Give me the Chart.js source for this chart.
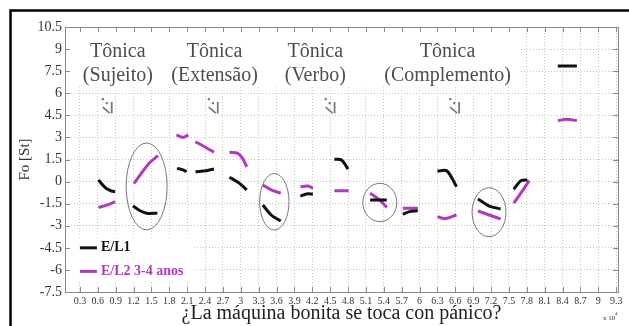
<!DOCTYPE html>
<html>
<head>
<meta charset="utf-8">
<script src="https://cdn.jsdelivr.net/npm/chart.js@4.4.1/dist/chart.umd.min.js"></script>
<style>
  html, body { margin: 0; padding: 0; background: #fff; }
  #wrap { width: 629px; height: 326px; }
</style>
</head>
<body>
<div id="wrap"><canvas id="foChart" width="629" height="326"></canvas></div>
<script>
// tick values (x axis is in units of 10^4 samples)
const xTicks = [0.3, 0.6, 0.9, 1.2, 1.5, 1.8, 2.1, 2.4, 2.7, 3, 3.3, 3.6, 3.9, 4.2, 4.5, 4.8,
  5.1, 5.4, 5.7, 6, 6.3, 6.6, 6.9, 7.2, 7.5, 7.8, 8.1, 8.4, 8.7, 9, 9.3];
const yTicks = [-7.5, -6, -4.5, -3, -1.5, 0, 1.5, 3, 4.5, 6, 7.5, 9, 10.5];

// E/L1 contour, null = gap between syllables
const el1X = [0.61, 0.74, 0.83, 0.89, null, 1.19, 1.31, 1.42, 1.6, null, 1.93, 2.03, 2.09, null,
  2.24, 2.42, 2.55, null, 2.81, 2.98, 3.1, null, 3.37, 3.51, 3.67, null, 4.0, 4.1, 4.21, null,
  4.57, 4.69, 4.8, null, 5.17, 5.45, null, 5.72, 5.83, 5.97, null, 6.3, 6.46, 6.62, null,
  6.98, 7.17, 7.36, null, 7.58, 7.7, 7.81, null, 8.32, 8.64];
const el1Y = [0.11, -0.46, -0.64, -0.69, null, -1.66, -1.98, -2.15, -2.15, null, 0.9, 0.79, 0.67, null,
  0.67, 0.74, 0.86, null, 0.29, -0.12, -0.57, null, -1.59, -2.27, -2.68, null, -0.98, -0.84, -0.84, null,
  1.52, 1.47, 0.84, null, -1.25, -1.25, null, -2.22, -2.04, -1.98, null, 0.72, 0.72, -0.35, null,
  -1.18, -1.66, -1.86, null, -0.52, 0.06, 0.11, null, 7.85, 7.85];

// E/L2 3-4 anos contour
const el2X = [0.61, 0.75, 0.89, null, 1.21, 1.33, 1.47, 1.61, null, 1.92, 2.03, 2.12, null,
  2.24, 2.39, 2.55, null, 2.81, 2.95, 3.03, 3.1, null, 3.37, 3.51, 3.67, null, 4.0, 4.13, 4.21, null,
  4.57, 4.81, null, 5.17, 5.33, 5.45, null, 5.72, 5.97, null, 6.3, 6.42, 6.62, null,
  6.98, 7.17, 7.36, null, 7.58, 7.7, 7.84, null, 8.32, 8.47, 8.64];
const el2Y = [-1.75, -1.6, -1.37, null, -0.12, 0.56, 1.28, 1.76, null, 3.17, 3.0, 3.17, null,
  2.71, 2.37, 1.99, null, 1.99, 1.92, 1.58, 1.01, null, -0.23, -0.57, -0.79, null, -0.35, -0.3, -0.46, null,
  -0.62, -0.62, null, -0.79, -1.25, -1.75, null, -1.81, -1.81, null, -2.38, -2.52, -2.27, null,
  -2.0, -2.27, -2.54, null, -1.47, -0.79, 0.06, null, 4.14, 4.23, 4.14];

// stressed-syllable labels and the ellipses around compared syllables (data units)
const tonicaLabels = ['(Sujeito)', '(Extensão)', '(Verbo)', '(Complemento)'];
const tonicaX = [0.937, 2.56, 4.25, 6.47];
const arrowX = [0.75, 2.53, 4.49, 6.58];
const ellipseX = [1.42, 3.563, 5.333, 7.166];
const ellipseY = [-0.33, -1.37, -1.42, -2.08];
const ellipseRx = [0.344, 0.246, 0.285, 0.285];
const ellipseRy = [2.95, 1.92, 1.3, 1.66];

const serif = '"Liberation Serif", "Times New Roman", serif';

function toPoints(xs, ys) {
  return xs.map((x, i) => ({ x: x === null ? xs[i - 1] : x, y: ys[i] }));
}

function fmt(v) {
  return String(Number(v.toFixed(1)));
}

function arrowMark(ctx, px, py) {
  ctx.fillStyle = '#7a7a7a';
  ctx.strokeStyle = '#7a7a7a';
  ctx.lineWidth = 1.8;
  ctx.fillRect(px - 5, py - 8, 2.2, 2.2);
  ctx.fillRect(px - 1, py - 4, 2.2, 2.2);
  ctx.beginPath();
  ctx.moveTo(px - 4, py + 1);
  ctx.lineTo(px + 3, py + 7);
  ctx.moveTo(px + 5, py - 4);
  ctx.lineTo(px + 5, py + 7.5);
  ctx.stroke();
}

const decorations = {
  id: 'decorations',
  beforeDatasetsDraw(chart) {
    const { ctx, chartArea: a, scales: { x, y } } = chart;
    ctx.save();

    // white patches: label band and legend
    ctx.fillStyle = '#fff';
    ctx.fillRect(a.left + 1, a.top + 2, x.getPixelForValue(7.65) - a.left, y.getPixelForValue(6.4) - a.top - 2);
    ctx.fillRect(a.left + 1, y.getPixelForValue(-3.8), x.getPixelForValue(2.2) - a.left, y.getPixelForValue(-6.8) - y.getPixelForValue(-3.8));

    // labels
    ctx.fillStyle = '#4d4d4d';
    ctx.font = '20px ' + serif;
    ctx.textAlign = 'center';
    ctx.textBaseline = 'middle';
    tonicaLabels.forEach((sub, i) => {
      const px = x.getPixelForValue(tonicaX[i]);
      ctx.fillText('Tônica', px, y.getPixelForValue(8.8));
      ctx.fillText(sub, px, y.getPixelForValue(7.17));
    });
    arrowX.forEach((v) => arrowMark(ctx, x.getPixelForValue(v), y.getPixelForValue(5.13)));

    // ellipses
    ctx.strokeStyle = '#555';
    ctx.lineWidth = 0.8;
    ellipseX.forEach((cx, i) => {
      const px = x.getPixelForValue(cx);
      const py = y.getPixelForValue(ellipseY[i]);
      const rx = x.getPixelForValue(cx + ellipseRx[i]) - px;
      const ry = py - y.getPixelForValue(ellipseY[i] + ellipseRy[i]);
      ctx.beginPath();
      ctx.ellipse(px, py, rx, ry, 0, 0, Math.PI * 2);
      ctx.stroke();
    });
    ctx.restore();
  },
  afterDraw(chart) {
    const { ctx, chartArea: a, scales: { x, y } } = chart;
    ctx.save();

    // axes box with inward ticks
    ctx.strokeStyle = '#8a8a8a';
    ctx.lineWidth = 1;
    ctx.strokeRect(a.left + 0.5, a.top + 0.5, a.right - a.left, a.bottom - a.top);
    ctx.beginPath();
    xTicks.forEach((v) => {
      const px = Math.round(x.getPixelForValue(v)) + 0.5;
      ctx.moveTo(px, a.bottom); ctx.lineTo(px, a.bottom - 5);
      ctx.moveTo(px, a.top); ctx.lineTo(px, a.top + 5);
    });
    yTicks.forEach((v) => {
      const py = Math.round(y.getPixelForValue(v)) + 0.5;
      ctx.moveTo(a.left, py); ctx.lineTo(a.left + 5, py);
      ctx.moveTo(a.right, py); ctx.lineTo(a.right - 5, py);
    });
    ctx.stroke();

    // legend
    ctx.font = 'bold 14px ' + serif;
    ctx.textAlign = 'left';
    ctx.textBaseline = 'middle';
    chart.data.datasets.forEach((ds, i) => {
      const py = y.getPixelForValue(-4.5 - 1.6 * i);
      const x0 = x.getPixelForValue(0.3);
      ctx.strokeStyle = ds.borderColor;
      ctx.lineWidth = 3;
      ctx.beginPath();
      ctx.moveTo(x0, py);
      ctx.lineTo(x0 + 17, py);
      ctx.stroke();
      ctx.fillStyle = ds.borderColor;
      ctx.fillText(ds.label, x0 + 21, py);
    });

    // exponent note
    ctx.fillStyle = '#333';
    ctx.font = '7px ' + serif;
    ctx.textAlign = 'left';
    ctx.fillText('x 10', a.right - 15, a.bottom + 26);
    ctx.font = '5px ' + serif;
    ctx.fillText('4', a.right - 3, a.bottom + 22);

    // outer black frame
    ctx.strokeStyle = '#000';
    ctx.lineWidth = 2.5;
    ctx.strokeRect(10.5, 10.5, 640, 340);
    ctx.restore();
  }
};

new Chart(document.getElementById('foChart'), {
  type: 'line',
  data: {
    datasets: [
      {
        label: 'E/L1',
        data: toPoints(el1X, el1Y),
        borderColor: '#111111',
        borderWidth: 3,
        pointRadius: 0,
        tension: 0.3,
        spanGaps: false,
      },
      {
        label: 'E/L2 3-4 anos',
        data: toPoints(el2X, el2Y),
        borderColor: '#b238bf',
        borderWidth: 3,
        pointRadius: 0,
        tension: 0.3,
        spanGaps: false,
      },
    ],
  },
  options: {
    responsive: false,
    animation: false,
    layout: { padding: { left: 12, right: 11, top: 27, bottom: 0 } },
    plugins: {
      legend: { display: false },
      tooltip: { enabled: false },
    },
    scales: {
      x: {
        type: 'linear',
        min: 0.05,
        max: 9.33,
        afterBuildTicks: (scale) => {
          scale.ticks = xTicks.map((v) => ({ value: v }));
        },
        afterFit: (scale) => {
          scale.height = 34;
        },
        grid: { color: '#c4c4c4', drawTicks: false },
        border: { display: false, dash: [1, 2] },
        ticks: {
          autoSkip: false,
          maxRotation: 0,
          padding: 3,
          color: '#333',
          font: { family: serif, size: 10 },
          callback: (v) => fmt(v),
        },
        title: {
          display: true,
          text: '¿La máquina bonita se toca con pánico?',
          color: '#222',
          font: { family: serif, size: 20 },
          padding: 0,
        },
      },
      y: {
        min: -7.5,
        max: 10.5,
        afterBuildTicks: (scale) => {
          scale.ticks = yTicks.map((v) => ({ value: v }));
        },
        afterFit: (scale) => {
          scale.width = 53;
        },
        grid: { color: '#c4c4c4', drawTicks: false },
        border: { display: false, dash: [1, 2] },
        ticks: {
          padding: 3,
          color: '#333',
          font: { family: serif, size: 14 },
          callback: (v) => fmt(v),
        },
        title: {
          display: true,
          text: 'Fo [St]',
          color: '#333',
          font: { family: serif, size: 15 },
          padding: { top: 4, bottom: 0 },
        },
      },
    },
  },
  plugins: [decorations],
});
</script>
</body>
</html>
